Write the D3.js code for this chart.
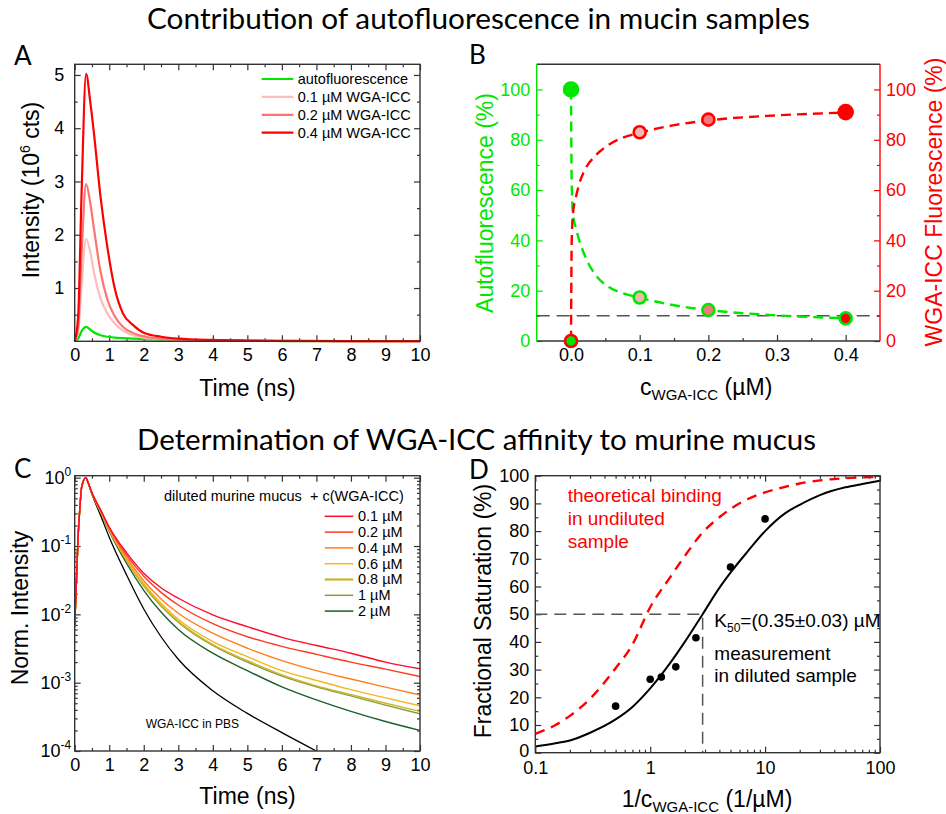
<!DOCTYPE html>
<html>
<head>
<meta charset="utf-8">
<script src="https://cdn.jsdelivr.net/npm/d3@7"></script>
<style>
  body { margin: 0; background: #fff; }
</style>
</head>
<body>
<svg id="fig" width="946" height="814"></svg>
<script>
// ---- panel A: raw decays (10^6 cts)
var timeA = [0, 0.1, 0.2, 0.33, 0.45, 0.55, 0.75, 0.95, 1.15, 1.4, 1.7, 2, 2.5, 3, 4, 5, 6, 8, 10];
var autoA = [0, 0.05, 0.19, 0.27, 0.22, 0.17, 0.115, 0.085, 0.07, 0.06, 0.05, 0.042, 0.032, 0.024, 0.014, 0.008, 0.005, 0.002, 0.001];
var wga01A = [0, 0.18, 1.08, 1.92, 1.68, 1.32, 0.8, 0.52, 0.34, 0.2, 0.11, 0.07, 0.04, 0.027, 0.015, 0.01, 0.006, 0.003, 0.002];
var wga02A = [0, 0.27, 1.65, 2.95, 2.6, 2.15, 1.3, 0.78, 0.48, 0.27, 0.15, 0.09, 0.05, 0.033, 0.018, 0.011, 0.007, 0.004, 0.002];
var wga04A = [0, 0.46, 2.8, 5.02, 4.5, 3.95, 2.7, 1.75, 1.02, 0.52, 0.3, 0.16, 0.085, 0.05, 0.025, 0.015, 0.01, 0.005, 0.003];
var legendA = ['autofluorescence', '0.1 µM WGA-ICC', '0.2 µM WGA-ICC', '0.4 µM WGA-ICC'];

// ---- panel B: share of autofluorescence / WGA-ICC signal
var concB = [0, 0.1, 0.2, 0.4];
var autoPctB = [100, 17.3, 12.3, 9.0];
var wgaPctB = [0, 83, 88, 91];
var fitXB = [0, 0.001, 0.003, 0.007, 0.012, 0.02, 0.035, 0.055, 0.075, 0.1, 0.15, 0.2, 0.3, 0.4];
var fitAutoB = [100, 62, 50, 45, 40, 34, 26.5, 21.5, 19, 17.2, 14.2, 12.3, 10.2, 9.0];
var fitWgaB = [0, 40, 51, 57, 62.5, 68, 73.5, 78, 80.8, 82.8, 85.8, 87.7, 89.7, 90.8];
var thresholdB = 10;

// ---- panel C: normalised decays
var timeC = [0, 0.05, 0.1, 0.15, 0.2, 0.32, 0.4, 0.5, 0.75, 1, 1.5, 2, 2.5, 3, 4, 5, 6, 7, 8, 9, 10];
var c01 = [0.0066, 0.03, 0.14, 0.36, 0.72, 1.0, 0.82, 0.6, 0.34, 0.19, 0.080, 0.040, 0.0245, 0.0172, 0.0098, 0.0066, 0.0046, 0.0035, 0.0027, 0.0020, 0.0016];
var c02 = [0.0066, 0.03, 0.14, 0.36, 0.72, 1.0, 0.82, 0.6, 0.335, 0.185, 0.074, 0.036, 0.021, 0.0137, 0.0073, 0.0047, 0.0034, 0.0026, 0.0020, 0.00158, 0.00123];
var c04 = [0.0066, 0.03, 0.14, 0.36, 0.72, 1.0, 0.82, 0.59, 0.33, 0.18, 0.068, 0.031, 0.0168, 0.0104, 0.0053, 0.0032, 0.0021, 0.0015, 0.00113, 0.00086, 0.00066];
var c06 = [0.0066, 0.03, 0.14, 0.36, 0.72, 1.0, 0.82, 0.59, 0.32, 0.175, 0.064, 0.028, 0.0145, 0.0085, 0.0040, 0.0024, 0.0015, 0.00108, 0.00079, 0.0006, 0.00046];
var c08 = [0.0066, 0.03, 0.14, 0.36, 0.72, 1.0, 0.82, 0.59, 0.32, 0.172, 0.062, 0.0265, 0.0136, 0.0079, 0.0036, 0.0021, 0.0013, 0.0009, 0.00067, 0.0005, 0.00038];
var c1 = [0.0066, 0.03, 0.14, 0.36, 0.72, 1.0, 0.82, 0.59, 0.32, 0.17, 0.061, 0.026, 0.0133, 0.0077, 0.0035, 0.0020, 0.00125, 0.00087, 0.00064, 0.00047, 0.00035];
var c2 = [0.0066, 0.03, 0.14, 0.36, 0.72, 1.0, 0.82, 0.585, 0.31, 0.165, 0.056, 0.0225, 0.0108, 0.0060, 0.0027, 0.0015, 0.00087, 0.00056, 0.00038, 0.00027, 0.0002];
var pbsC = [0.0066, 0.03, 0.14, 0.36, 0.72, 1.0, 0.80, 0.57, 0.28, 0.135, 0.038, 0.012, 0.0047, 0.0022, 0.00076, 0.000355, 0.000186, 0.0001];
var legendC = ['0.1 µM', '0.2 µM', '0.4 µM', '0.6 µM', '0.8 µM', '1 µM', '2 µM'];

// ---- panel D: binding curve
var invConcD = [0.5, 1, 1.25, 1.67, 2.5, 5, 10];
var satD = [16.8, 26.5, 27.3, 31, 41.5, 67, 84.4];
var fitXD = [0.1, 0.15, 0.2, 0.3, 0.5, 0.7, 1, 1.5, 2, 2.86, 4, 5, 7, 10, 15, 20, 30, 50, 70, 100];
var fitMeasD = [2.2, 3.4, 4.4, 7.2, 12.0, 16.5, 23.2, 32.5, 40, 50, 59.5, 65, 72.5, 80, 86.5, 89.5, 93, 95.8, 97, 98.2];
var fitTheoD = [6.8, 10, 13.3, 19.5, 30.5, 39, 52.5, 63.5, 71, 79.5, 85, 88, 91.5, 94, 96, 97.2, 98.3, 99.1, 99.4, 99.6];
var k50InvD = 2.86;

var FONT = '"Liberation Sans", Arial, sans-serif';
var TITLE_FONT = 'Lato, "Open Sans", sans-serif';
var GREEN = '#00e600', RED = '#ff0000', FRAME = '#333';

var svg = d3.select('#fig');

function axis(g, gen, scale, values, size, fmt, pad, x, y, color) {
    var a = gen(scale).tickValues(values).tickSize(size).tickSizeOuter(0).tickPadding(pad);
    a.tickFormat(fmt === null ? '' : fmt);
    var ag = g.append('g')
        .attr('transform', 'translate(' + x + ',' + y + ')')
        .call(a);
    ag.select('.domain').remove();
    ag.attr('font-size', 18).attr('font-family', FONT);
    ag.selectAll('line').attr('stroke', color || FRAME).attr('stroke-width', 1.2);
    ag.selectAll('text').attr('fill', color || '#000');
    return ag;
}

function frame(g, w, h) {
    g.append('rect').attr('width', w).attr('height', h)
        .attr('fill', 'none').attr('stroke', FRAME).attr('stroke-width', 1.4);
}

function rotLabel(x, y, color) {
    return svg.append('text')
        .attr('transform', 'translate(' + x + ',' + y + ') rotate(-90)')
        .attr('text-anchor', 'middle').attr('dy', '0.35em')
        .attr('font-family', FONT).attr('font-size', 23)
        .attr('fill', color || '#000');
}

function range(a, b, s) { return d3.range(a, b + s / 2, s); }

// titles and panel letters
svg.append('text').attr('x', 478.5).attr('y', 29).attr('text-anchor', 'middle')
    .attr('font-family', TITLE_FONT).attr('font-size', 29)
    .attr('textLength', 663).attr('lengthAdjust', 'spacingAndGlyphs')
    .text('Contribution of autofluorescence in mucin samples');
svg.append('text').attr('x', 476.5).attr('y', 450).attr('text-anchor', 'middle')
    .attr('font-family', TITLE_FONT).attr('font-size', 29)
    .attr('textLength', 679).attr('lengthAdjust', 'spacingAndGlyphs')
    .text('Determination of WGA-ICC affinity to murine mucus');
[['A', 14, 65], ['B', 469, 64], ['C', 14, 478], ['D', 469, 479]].forEach(function(l) {
    svg.append('text').attr('x', l[1]).attr('y', l[2])
        .attr('font-family', TITLE_FONT).attr('font-size', 26).text(l[0]);
});

// ================= panel A =================
var wA = 345.3, hA = 277;
var gA = svg.append('g').attr('transform', 'translate(74.7,64.3)');
var xA = d3.scaleLinear().domain([0, 10]).range([0, wA]);
var yA = d3.scaleLinear().domain([0, 5.2]).range([hA, 0]);

axis(gA, d3.axisBottom, xA, range(0, 10, 1), -6, d3.format('d'), 7, 0, hA);
axis(gA, d3.axisBottom, xA, range(0.5, 9.5, 1), -3, null, 7, 0, hA);
axis(gA, d3.axisTop, xA, range(0, 10, 1), -6, null, 7, 0, 0);
axis(gA, d3.axisTop, xA, range(0.5, 9.5, 1), -3, null, 7, 0, 0);
axis(gA, d3.axisLeft, yA, range(1, 5, 1), -6, d3.format('d'), 10.5, 0, 0);
axis(gA, d3.axisLeft, yA, range(0.5, 4.5, 1), -3, null, 7, 0, 0);
axis(gA, d3.axisRight, yA, range(1, 5, 1), -6, null, 7, wA, 0);
axis(gA, d3.axisRight, yA, range(0.5, 4.5, 1), -3, null, 7, wA, 0);

var seriesA = [autoA, wga01A, wga02A, wga04A];
var colorsA = [GREEN, '#ffbcbc', '#ff7373', RED];
var lineA = d3.line()
    .x(function(d) { return xA(d[0]); })
    .y(function(d) { return yA(d[1]); })
    .curve(d3.curveMonotoneX);
seriesA.forEach(function(s, i) {
    gA.append('path')
        .datum(timeA.map(function(t, j) { return [t, s[j]]; }))
        .attr('d', lineA).attr('fill', 'none')
        .attr('stroke', colorsA[i]).attr('stroke-width', 2.2);
});
frame(gA, wA, hA);

legendA.forEach(function(name, i) {
    var y = 14.7 + i * 17.9;
    gA.append('line').attr('x1', 187).attr('x2', 218.6).attr('y1', y).attr('y2', y)
        .attr('stroke', colorsA[i]).attr('stroke-width', 2.2);
    gA.append('text').attr('x', 223).attr('y', y + 5)
        .attr('font-family', FONT).attr('font-size', 14.5).text(name);
});

var tA = rotLabel(31, 190);
tA.append('tspan').text('Intensity (10');
tA.append('tspan').attr('font-size', 14).attr('dy', -9).text('6');
tA.append('tspan').attr('dy', 9).text(' cts)');
svg.append('text').attr('x', 247.5).attr('y', 396).attr('text-anchor', 'middle')
    .attr('font-family', FONT).attr('font-size', 23).text('Time (ns)');

// ================= panel B =================
var wB = 343.3, hB = 276.7;
var gB = svg.append('g').attr('transform', 'translate(536.7,64.3)');
var xB = d3.scaleLinear().domain([-0.05, 0.45]).range([0, wB]);
var yB = d3.scaleLinear().domain([0, 110]).range([hB, 0]);

axis(gB, d3.axisBottom, xB, range(0, 0.4, 0.1), -6, d3.format('.1f'), 7, 0, hB);
axis(gB, d3.axisBottom, xB, range(0.05, 0.35, 0.1), -3, null, 7, 0, hB);
axis(gB, d3.axisLeft, yB, range(0, 100, 20), -6, d3.format('d'), 6.5, 0, 0, GREEN);
axis(gB, d3.axisLeft, yB, range(10, 90, 20), -3, null, 7, 0, 0, GREEN);
axis(gB, d3.axisRight, yB, range(0, 100, 20), -6, d3.format('d'), 6, wB, 0, RED);
axis(gB, d3.axisRight, yB, range(10, 90, 20), -3, null, 7, wB, 0, RED);
gB.append('line').attr('x1', 0).attr('x2', wB).attr('y1', 0).attr('y2', 0).attr('stroke', FRAME).attr('stroke-width', 1.4);
gB.append('line').attr('x1', 0).attr('x2', wB).attr('y1', hB).attr('y2', hB).attr('stroke', FRAME).attr('stroke-width', 1.4);
gB.append('line').attr('x1', 0).attr('x2', 0).attr('y1', 0).attr('y2', hB).attr('stroke', GREEN).attr('stroke-width', 1.4);
gB.append('line').attr('x1', wB).attr('x2', wB).attr('y1', 0).attr('y2', hB).attr('stroke', RED).attr('stroke-width', 1.4);

gB.append('line')
    .attr('x1', 0).attr('x2', wB)
    .attr('y1', yB(thresholdB)).attr('y2', yB(thresholdB))
    .attr('stroke', '#555').attr('stroke-width', 1.5).attr('stroke-dasharray', '13,7');

var lineB = d3.line()
    .x(function(d) { return xB(d[0]); })
    .y(function(d) { return yB(d[1]); })
    .curve(d3.curveMonotoneX);
gB.append('path').datum(fitXB.map(function(x, i) { return [x, fitAutoB[i]]; }))
    .attr('d', lineB).attr('fill', 'none').attr('stroke', GREEN)
    .attr('stroke-width', 2.4).attr('stroke-dasharray', '10,6');
gB.append('path').datum(fitXB.map(function(x, i) { return [x, fitWgaB[i]]; }))
    .attr('d', lineB).attr('fill', 'none').attr('stroke', RED)
    .attr('stroke-width', 2.4).attr('stroke-dasharray', '10,6');

var fillsB = [GREEN, '#f5b5b5', '#f07a7a', RED];
concB.forEach(function(c, i) {
    gB.append('circle').attr('cx', xB(c)).attr('cy', yB(autoPctB[i]))
        .attr('r', i === 0 ? 7 : 6).attr('fill', fillsB[i])
        .attr('stroke', GREEN).attr('stroke-width', 2.6);
    gB.append('circle').attr('cx', xB(c)).attr('cy', yB(wgaPctB[i]))
        .attr('r', i === 3 ? 7 : 6).attr('fill', fillsB[i])
        .attr('stroke', RED).attr('stroke-width', 2.6);
});

rotLabel(485, 203, GREEN).text('Autofluorescence (%)');
rotLabel(934, 202, RED).text('WGA-ICC Fluorescence (%)');
var tB = svg.append('text').attr('x', 640).attr('y', 395)
    .attr('font-family', FONT).attr('font-size', 23);
tB.append('tspan').text('c');
tB.append('tspan').attr('font-size', 15).attr('dy', 5).text('WGA-ICC');
tB.append('tspan').attr('dy', -5).text(' (µM)');

// ================= panel C =================
var wC = 345.3, hC = 275.3;
var gC = svg.append('g').attr('transform', 'translate(74.7,475.7)');
var xC = d3.scaleLinear().domain([0, 10]).range([0, wC]);
var yC = d3.scaleLog().domain([1e-4, 1.07]).range([hC, 0]);
var decades = [1e-4, 1e-3, 1e-2, 1e-1, 1];
var minorC = [];
decades.slice(0, 4).forEach(function(d) { for (var k = 2; k < 10; k++) minorC.push(d * k); });

axis(gC, d3.axisBottom, xC, range(0, 10, 1), -6, d3.format('d'), 7, 0, hC);
axis(gC, d3.axisBottom, xC, range(0.5, 9.5, 1), -3, null, 7, 0, hC);
axis(gC, d3.axisTop, xC, range(0, 10, 1), -6, null, 7, 0, 0);
axis(gC, d3.axisTop, xC, range(0.5, 9.5, 1), -3, null, 7, 0, 0);
axis(gC, d3.axisLeft, yC, decades, -6, null, 7, 0, 0);
axis(gC, d3.axisLeft, yC, minorC, -3, null, 7, 0, 0);
axis(gC, d3.axisRight, yC, decades, -6, null, 7, wC, 0);
axis(gC, d3.axisRight, yC, minorC, -3, null, 7, wC, 0);

decades.forEach(function(d) {
    var t = gC.append('text').attr('x', -3.5).attr('y', yC(d) + 6.4)
        .attr('text-anchor', 'end').attr('font-family', FONT).attr('font-size', 18);
    t.append('tspan').text('10');
    t.append('tspan').attr('font-size', 12).attr('dy', -8).text(Math.round(Math.log10(d)));
});

gC.append('clipPath').attr('id', 'clipC').append('rect').attr('width', wC).attr('height', hC);
var lineC = d3.line()
    .x(function(d) { return xC(d[0]); })
    .y(function(d) { return yC(d[1]); })
    .curve(d3.curveMonotoneX);
var seriesC = [c01, c02, c04, c06, c08, c1, c2];
var colorsC = ['#ff0a2a', '#ff3a22', '#ff7f1e', '#f5b51e', '#c8b62a', '#8c9a3a', '#1e5e2a'];
var plotC = gC.append('g').attr('clip-path', 'url(#clipC)');
plotC.append('path').datum(pbsC.map(function(v, i) { return [timeC[i], v]; }))
    .attr('d', lineC).attr('fill', 'none').attr('stroke', '#000').attr('stroke-width', 1.3);
for (var i = seriesC.length - 1; i >= 0; i--) {
    plotC.append('path').datum(timeC.map(function(t, j) { return [t, seriesC[i][j]]; }))
        .attr('d', lineC).attr('fill', 'none')
        .attr('stroke', colorsC[i]).attr('stroke-width', 1.4);
}
frame(gC, wC, hC);

gC.append('text').attr('x', 89.3).attr('y', 25.3).attr('font-family', FONT).attr('font-size', 14.5)
    .text('diluted murine mucus');
gC.append('text').attr('x', 235.3).attr('y', 25.3).attr('font-family', FONT).attr('font-size', 14.5)
    .text('+ c(WGA-ICC)');
legendC.forEach(function(name, i) {
    var y = 40.6 + i * 15.8;
    gC.append('line').attr('x1', 250).attr('x2', 278.6).attr('y1', y).attr('y2', y)
        .attr('stroke', colorsC[i]).attr('stroke-width', i === 4 ? 2.2 : 1.5);
    gC.append('text').attr('x', 283.3).attr('y', y + 5)
        .attr('font-family', FONT).attr('font-size', 14.5).text(name);
});
gC.append('text').attr('x', 71).attr('y', 252.5).attr('font-family', FONT).attr('font-size', 12)
    .text('WGA-ICC in PBS');

rotLabel(20, 608).text('Norm. Intensity');
svg.append('text').attr('x', 247.5).attr('y', 804).attr('text-anchor', 'middle')
    .attr('font-family', FONT).attr('font-size', 23).text('Time (ns)');

// ================= panel D =================
var wD = 344.7, hD = 277;
var gD = svg.append('g').attr('transform', 'translate(535.3,475.7)');
var xD = d3.scaleLog().domain([0.1, 100]).range([0, wD]);
var yD = d3.scaleLinear().domain([0, 100]).range([hD, 0]);
var minorD = [];
[0.1, 1, 10].forEach(function(d) { for (var k = 2; k < 10; k++) minorD.push(d * k); });

axis(gD, d3.axisBottom, xD, [0.1, 1, 10, 100], -6, function(v) { return v < 1 ? '0.1' : String(v); }, 9, 0, hD);
axis(gD, d3.axisBottom, xD, minorD, -3, null, 7, 0, hD);
axis(gD, d3.axisTop, xD, [0.1, 1, 10, 100], -6, null, 7, 0, 0);
axis(gD, d3.axisTop, xD, minorD, -3, null, 7, 0, 0);
var yAxD = axis(gD, d3.axisLeft, yD, range(0, 100, 10), -6, d3.format('d'), 6, 0, 0);
yAxD.selectAll('text').filter(function(d) { return d === 0; }).attr('dy', '0.2em');
axis(gD, d3.axisLeft, yD, range(5, 95, 10), -3, null, 7, 0, 0);
axis(gD, d3.axisRight, yD, range(0, 100, 10), -6, null, 7, wD, 0);
axis(gD, d3.axisRight, yD, range(5, 95, 10), -3, null, 7, wD, 0);

gD.append('clipPath').attr('id', 'clipD').append('rect').attr('width', wD).attr('height', hD);
var plotD = gD.append('g').attr('clip-path', 'url(#clipD)');
plotD.append('path')
    .attr('d', 'M' + xD(0.1) + ',' + yD(50) + 'H' + xD(k50InvD) + 'V' + yD(0))
    .attr('fill', 'none').attr('stroke', '#555').attr('stroke-width', 1.5)
    .attr('stroke-dasharray', '12,7');
var lineD = d3.line()
    .x(function(d) { return xD(d[0]); })
    .y(function(d) { return yD(d[1]); })
    .curve(d3.curveMonotoneX);
plotD.append('path').datum(fitXD.map(function(x, i) { return [x, fitTheoD[i]]; }))
    .attr('d', lineD).attr('fill', 'none').attr('stroke', RED)
    .attr('stroke-width', 2.4).attr('stroke-dasharray', '10,7');
plotD.append('path').datum(fitXD.map(function(x, i) { return [x, fitMeasD[i]]; }))
    .attr('d', lineD).attr('fill', 'none').attr('stroke', '#000').attr('stroke-width', 2);
gD.selectAll('circle.pt').data(invConcD).enter().append('circle')
    .attr('class', 'pt')
    .attr('cx', function(d) { return xD(d); })
    .attr('cy', function(d, i) { return yD(satD[i]); })
    .attr('r', 3.8).attr('fill', '#000');
frame(gD, wD, hD);

['theoretical binding', 'in undiluted', 'sample'].forEach(function(s, i) {
    gD.append('text').attr('x', 32.4).attr('y', 26.3 + i * 23.2)
        .attr('font-family', FONT).attr('font-size', 19).attr('fill', RED).text(s);
});
var tK = gD.append('text').attr('x', 179).attr('y', 151)
    .attr('font-family', FONT).attr('font-size', 19);
tK.append('tspan').text('K');
tK.append('tspan').attr('font-size', 12).attr('dy', 5).text('50');
tK.append('tspan').attr('dy', -5).text('=(0.35±0.03) µM');
gD.append('text').attr('x', 179).attr('y', 184.3).attr('font-family', FONT).attr('font-size', 19)
    .text('measurement');
gD.append('text').attr('x', 179).attr('y', 206.6).attr('font-family', FONT).attr('font-size', 19)
    .text('in diluted sample');

rotLabel(482.5, 611).text('Fractional Saturation (%)');
var tD = svg.append('text').attr('x', 621.7).attr('y', 807)
    .attr('font-family', FONT).attr('font-size', 23);
tD.append('tspan').text('1/c');
tD.append('tspan').attr('font-size', 15).attr('dy', 5).text('WGA-ICC');
tD.append('tspan').attr('dy', -5).text(' (1/µM)');
</script>
</body>
</html>
